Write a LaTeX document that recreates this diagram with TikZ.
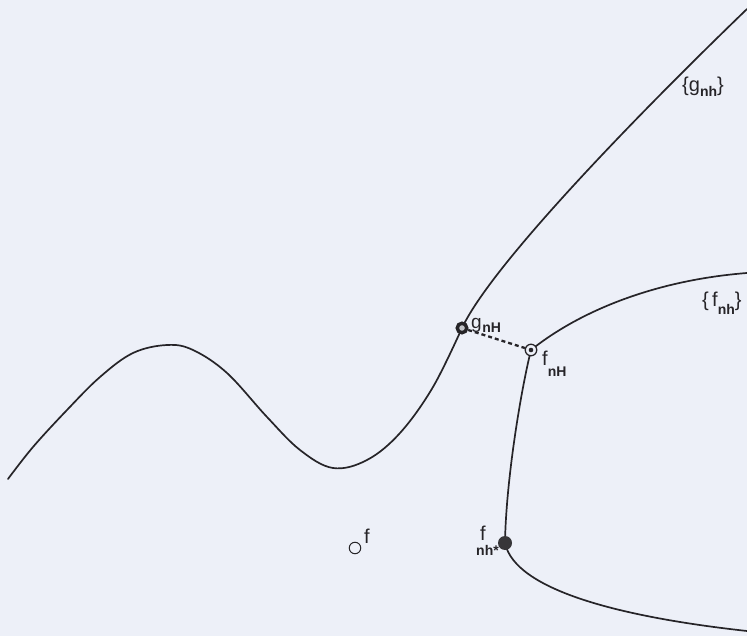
\documentclass[tikz,border=0pt]{standalone}
\usepackage{fontspec}
\setmainfont{Liberation Sans}
\definecolor{paper}{RGB}{237,240,248}
\definecolor{ink}{RGB}{38,36,40}
\newcommand\lowsub[2][5pt]{\raisebox{-#1}{\fontsize{14}{14}\selectfont\bfseries #2}}
\begin{document}
\begin{tikzpicture}[x=1pt,y=-1pt,
  curve/.style={draw=ink, line width=1.7pt, line cap=round},
  lbl/.style={inner sep=0pt, text=ink, font=\fontsize{19}{19}\selectfont},
  ringmark/.style={circle, draw=ink, line width=3.4pt, fill=paper!60!gray, minimum size=9.5pt, inner sep=0pt},
  eyemark/.style={circle, draw=ink, line width=1.3pt, fill=paper, minimum size=11.5pt, inner sep=0pt},
  dotmark/.style={circle, fill=ink!92, minimum size=14pt, inner sep=0pt},
  openmark/.style={circle, draw=ink, line width=1pt, minimum size=11.5pt, inner sep=0pt}]
\fill[paper] (0,0) rectangle (747,636);
\useasboundingbox (0,0) rectangle (747,636);
% key points
\coordinate (gstart) at (8,479);
\coordinate (gnH) at (462,328);
\coordinate (gend) at (747,9);
\coordinate (fnH) at (531,350);
\coordinate (fnhs) at (505,543);
\coordinate (ftop) at (747,273);
\coordinate (fbot) at (747,631);
\coordinate (fpt) at (355,548);
% curve {g_nh}
\draw[curve] plot[smooth, tension=0.6] coordinates {(gstart) (33,447) (67,410) (100,377) (133,353) (167,345) (193,350) (227,373) (267,417) (300,450) (333,468) (367,460) (400,433) (433,387) (gnH)};
\draw[curve] (gnH) .. controls (495,258) and (665,88) .. (gend);
% curve {f_nh}
\draw[curve] (fnH) .. controls (581,310) and (657,280) .. (ftop);
\draw[curve] (fnH) .. controls (521,390) and (506,480) .. (fnhs);
\draw[curve] (fnhs) .. controls (515,590) and (620,617) .. (fbot);
% markers
\node[ringmark] (mg) at (gnH) {};
\node[eyemark] (mf) at (fnH) {};
\fill[ink] (fnH) circle (2.3pt);
\node[dotmark] (ms) at (fnhs) {};
\node[openmark] (mo) at (fpt) {};
\draw[ink, line width=2.3pt, dash pattern=on 4pt off 3pt] (mg) -- (mf);
% labels
\node[lbl, anchor=base west, font=\fontsize{20}{20}\selectfont] (lg) at (682,92) {\{g\lowsub{nh}\}};
\node[lbl, anchor=base west, font=\fontsize{20}{20}\selectfont] (lf) at (702,307) {\{\,f\lowsub[8pt]{nh}\}};
\node[lbl, anchor=base west, font=\fontsize{19}{19}\selectfont] (lgH) at (471,329) {g\kern0.5pt\lowsub[4pt]{nH}};
\node[lbl, anchor=base west, font=\fontsize{20}{20}\selectfont] (lfH) at (542,366) {f\lowsub[10pt]{nH}};
\node[lbl, anchor=base west, text depth=0pt, font=\fontsize{20}{20}\selectfont] (lfs) at (480,540) {f};
\node[lbl, anchor=base west, text height=9pt, text depth=0pt, font=\fontsize{14}{14}\selectfont\bfseries] (lfs2) at (476,555) {nh*};
\node[lbl, anchor=base west, font=\fontsize{20}{20}\selectfont] (lf0) at (364,543) {f};
\end{tikzpicture}
\end{document}
